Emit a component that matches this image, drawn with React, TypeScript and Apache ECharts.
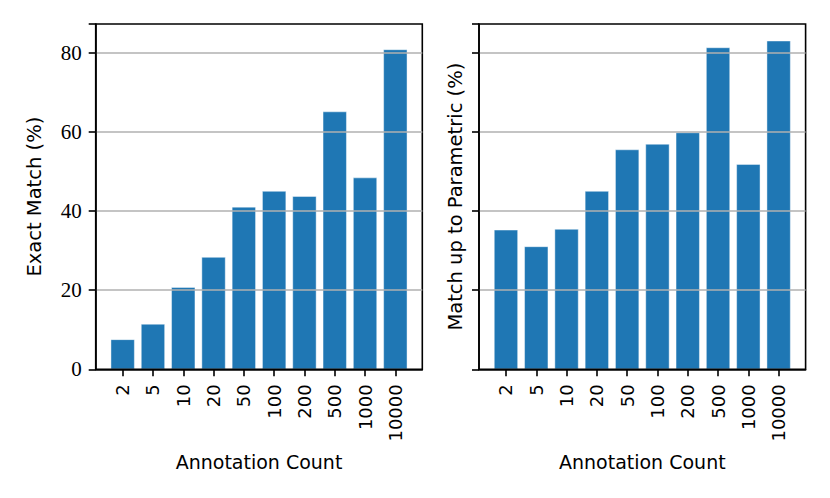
import React, { useEffect, useRef } from "react";
import * as echarts from "echarts";

const categories = ["2", "5", "10", "20", "50", "100", "200", "500", "1000", "10000"];
const exactMatch = [7.6, 11.5, 20.8, 28.4, 41.1, 45.1, 43.8, 65.2, 48.5, 80.9];
const paramMatch = [35.3, 31.1, 35.5, 45.1, 55.6, 57.0, 59.9, 81.4, 51.9, 83.1];
const yTicks = [0, 20, 40, 60, 80];
const gridValues = [20, 40, 60, 80];

const BAR = "#1f77b4";

export default function App() {
  const ref = useRef<HTMLDivElement>(null);
  useEffect(() => {
    document.body.style.margin = "0";
    const chart = echarts.init(ref.current!, null, { renderer: "svg" });
    const idx = categories.map((_, i) => i);
    const xAxisBase = (gridIndex: number) => ({
      type: "value" as const,
      gridIndex,
      min: -0.89,
      max: 9.89,
      z: 5,
      axisLine: { show: true, onZero: false, lineStyle: { color: "#000", width: 1.6 } },
      axisTick: { show: true, length: 7, lineStyle: { color: "#000", width: 1.6 }, customValues: idx },
      axisLabel: {
        show: true,
        customValues: idx,
        rotate: 90,
        margin: 15,
        color: "#000",
        fontFamily: "DejaVu Sans",
        fontSize: 18,
        formatter: (v: number) => categories[Math.round(v)] ?? "",
      },
      splitLine: { show: false },
      name: "Annotation Count",
      nameLocation: "middle" as const,
      nameGap: 83,
      nameTextStyle: { color: "#000", fontFamily: "DejaVu Sans", fontSize: 19 },
    });
    const yAxisBase = (gridIndex: number, name: string, showLabels: boolean, nameGap: number) => ({
      type: "value" as const,
      gridIndex,
      min: 0,
      max: 87.3,
      interval: 20,
      z: 5,
      axisLine: { show: true, onZero: false, lineStyle: { color: "#000", width: 1.6 } },
      axisTick: { show: true, length: 7, lineStyle: { color: "#000", width: 1.6 } },
      axisLabel: {
        show: showLabels,
        margin: 14,
        color: "#000",
        fontFamily: "Liberation Serif",
        fontSize: 21,
        showMaxLabel: true,
        customValues: yTicks,
      },
      splitLine: { show: false },
      name,
      nameLocation: "middle" as const,
      nameGap,
      nameTextStyle: { color: "#000", fontFamily: "DejaVu Sans", fontSize: 19.5 },
    });
    const barSeries = (i: number, values: number[]) => ({
      type: "bar" as const,
      xAxisIndex: i,
      yAxisIndex: i,
      barWidth: 24.2,
      data: values.map((v, k) => [k, v]),
      itemStyle: { color: BAR, borderColor: "rgba(255,255,255,0.55)", borderWidth: 0.8 },
      silent: true,
      markLine: {
        silent: true,
        symbol: ["none", "none"],
        label: { show: false },
        lineStyle: { color: "#b0b0b0", width: 1.6, type: "solid" as const },
        emphasis: { disabled: true },
        data: gridValues.map((v) => ({ yAxis: v })),
      },
    });
    chart.setOption({
      animation: false,
      grid: [
        { left: 95.7, top: 24, width: 326.6, height: 345.3, show: true, borderColor: "#000", borderWidth: 1.6, z: 5 },
        { left: 479, top: 24, width: 326.6, height: 345.3, show: true, borderColor: "#000", borderWidth: 1.6, z: 5 },
      ],
      xAxis: [xAxisBase(0), xAxisBase(1)],
      yAxis: [
        yAxisBase(0, "Exact Match (%)", true, 51),
        yAxisBase(1, "Match up to Parametric (%)", false, 14),
      ],
      series: [barSeries(0, exactMatch), barSeries(1, paramMatch)],
    });
    return () => chart.dispose();
  }, []);
  return <div ref={ref} style={{ width: 830, height: 498, background: "#fff" }} />;
}
